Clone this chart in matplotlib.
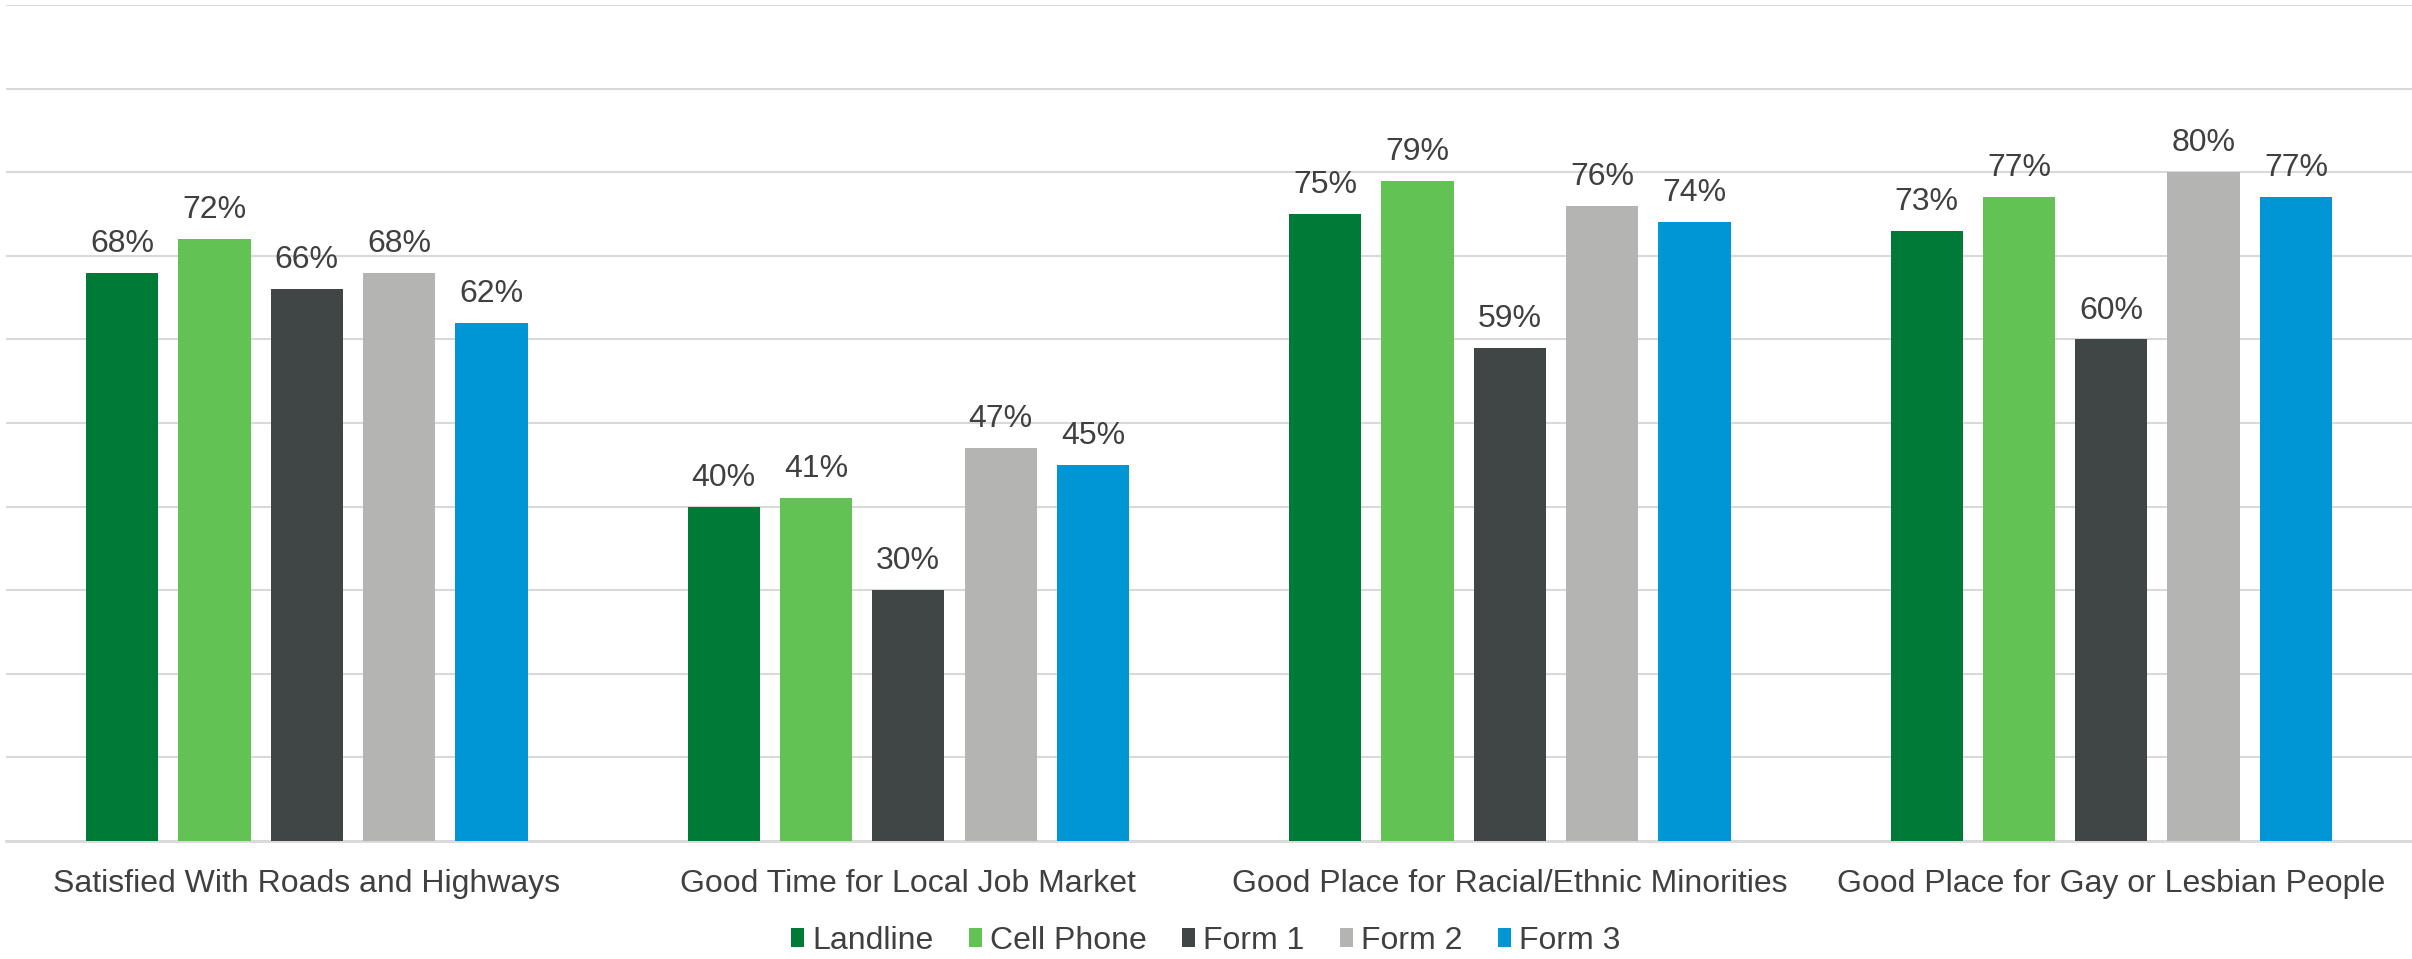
import matplotlib
matplotlib.use("Agg")
import matplotlib.pyplot as plt
import numpy as np
from matplotlib.patches import Patch

plt.rcParams['font.family'] = ['Liberation Sans', 'DejaVu Sans']

categories = [
    "Satisfied With Roads and Highways",
    "Good Time for Local Job Market",
    "Good Place for Racial/Ethnic Minorities",
    "Good Place for Gay or Lesbian People",
]
series_names = ["Landline", "Cell Phone", "Form 1", "Form 2", "Form 3"]
landline = [68, 40, 75, 73]
cell_phone = [72, 41, 79, 77]
form_1 = [66, 30, 59, 60]
form_2 = [68, 47, 76, 80]
form_3 = [62, 45, 74, 77]
series_values = [landline, cell_phone, form_1, form_2, form_3]
colors = ["#007A37", "#62C354", "#404545", "#B4B4B2", "#0096D6"]
text_color = "#404040"

fig = plt.figure(figsize=(24.12, 9.59), dpi=100)
ax = fig.add_axes([0.0025, 0.123, 0.9975, 0.8718])

x = np.arange(len(categories))
step = 0.1535
width = 0.120
for i, (vals, col) in enumerate(zip(series_values, colors)):
    pos = x + (i - 2) * step
    bars = ax.bar(pos, vals, width=width, color=col, zorder=3)
    for b, v in zip(bars, vals):
        ax.annotate(f"{v}%", (b.get_x() + b.get_width() / 2, v),
                    xytext=(0, 10), textcoords="offset points",
                    ha="center", va="bottom", fontsize=23, color=text_color)

ax.set_xlim(-0.5, len(categories) - 0.5)
ax.set_ylim(0, 100)
ax.set_yticks(np.arange(0, 101, 10))
ax.set_yticklabels([])
ax.tick_params(axis="y", length=0)
ax.grid(axis="y", color="#D9D9D9", linewidth=1.5, zorder=0)
ax.set_xticks(x)
ax.set_xticklabels(categories, fontsize=23, color=text_color)
ax.tick_params(axis="x", length=0, pad=20)
for s in ["top", "right", "left"]:
    ax.spines[s].set_visible(False)
ax.spines["bottom"].set_color("#D9D9D9")
ax.spines["bottom"].set_linewidth(2)

handles = [Patch(facecolor=c, edgecolor="none") for c in colors]
leg = fig.legend(handles, series_names, loc="center", bbox_to_anchor=(0.5, 0.019),
                 ncol=5, frameon=False, fontsize=23, handlelength=0.4,
                 handleheight=0.55, handletextpad=0.25, columnspacing=1.12)
for t in leg.get_texts():
    t.set_color(text_color)

fig.savefig("out.png", dpi=100)
